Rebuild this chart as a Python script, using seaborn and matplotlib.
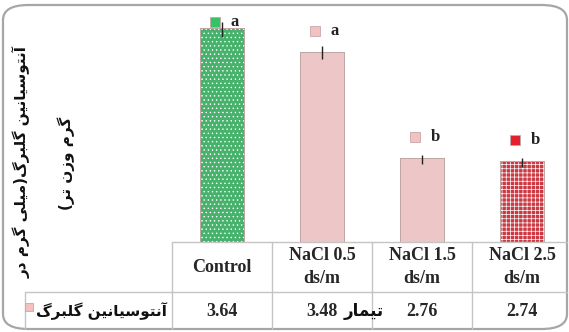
import numpy as np
import pandas as pd
import seaborn as sns
import matplotlib.pyplot as plt
import matplotlib.patheffects as pe
from matplotlib.patches import FancyBboxPatch
from matplotlib.lines import Line2D

# data
treatments = ['Control', 'NaCl 0.5\nds/m', 'NaCl 1.5\nds/m', 'NaCl 2.5\nds/m']
anthocyanin = [3.64, 3.48, 2.76, 2.74]
errors = [0.05, 0.045, 0.03, 0.03]
letters = ['a', 'a', 'b', 'b']
row_label = 'آنتوسیانین گلبرگ'
y_title = ['آنتوسیانین گلبرگ(میلی گرم در', 'گرم وزن تر)']
x_title = 'تیمار'

bar_colors = ['#34c466', '#f3c1c1', '#f3c1c1', '#e5202e']
bar_hatch = ['....', '', '', '++++']

# --- tiny arabic shaper (matplotlib does no shaping) ---
FORMS = {
    'آ': ('\uFE81', '\uFE82', None, None),
    'ا': ('\uFE8D', '\uFE8E', None, None),
    'ب': ('\uFE8F', '\uFE90', '\uFE91', '\uFE92'),
    'ت': ('\uFE95', '\uFE96', '\uFE97', '\uFE98'),
    'د': ('\uFEA9', '\uFEAA', None, None),
    'ر': ('\uFEAD', '\uFEAE', None, None),
    'ز': ('\uFEAF', '\uFEB0', None, None),
    'س': ('\uFEB1', '\uFEB2', '\uFEB3', '\uFEB4'),
    'ل': ('\uFEDD', '\uFEDE', '\uFEDF', '\uFEE0'),
    'م': ('\uFEE1', '\uFEE2', '\uFEE3', '\uFEE4'),
    'ن': ('\uFEE5', '\uFEE6', '\uFEE7', '\uFEE8'),
    'و': ('\uFEED', '\uFEEE', None, None),
    'ی': ('\uFBFC', '\uFBFD', '\uFBFE', '\uFBFF'),
    'گ': ('\uFB92', '\uFB93', '\uFB94', '\uFB95'),
}
MIRROR = {'(': ')', ')': '('}


def shape(s):
    out = []
    for i, c in enumerate(s):
        if c not in FORMS:
            out.append(MIRROR.get(c, c))
            continue
        prev = s[i - 1] if i > 0 else ''
        nxt = s[i + 1] if i + 1 < len(s) else ''
        pj = prev in FORMS and FORMS[prev][2] is not None
        nj = nxt in FORMS and FORMS[c][2] is not None
        iso, fin, ini, med = FORMS[c]
        if pj and nj:
            out.append(med)
        elif pj:
            out.append(fin)
        elif nj:
            out.append(ini)
        else:
            out.append(iso)
    return ''.join(out[::-1])


sns.set_style('white')
plt.rcParams['font.family'] = ['Liberation Serif', 'DejaVu Sans']
plt.rcParams['hatch.linewidth'] = 0.5

W, H = 569, 332
fig = plt.figure(figsize=(W / 100, H / 100), dpi=100)


def fx(x):
    return x / W


def fy(y):
    return 1 - y / H


# chart frame
frame = FancyBboxPatch((fx(3), fy(329)), fx(564), (329 - 5) / H,
                       boxstyle='round,pad=0,rounding_size=0.045',
                       transform=fig.transFigure, fill=False,
                       edgecolor='#a6a6a6', lw=1.6)
fig.add_artist(frame)

ax = fig.add_axes([fx(172), fy(242), (572 - 172) / W, (242 - 5.5) / H])
df = pd.DataFrame({'treatment': treatments, 'value': anthocyanin})
sns.barplot(data=df, x='treatment', y='value', hue='treatment',
            palette=bar_colors, width=0.43, legend=False, ax=ax)
for p, h in zip(ax.patches, bar_hatch):
    p.set_edgecolor('white')
    p.set_linewidth(0)
    p.set_hatch(h)
    p.set_path_effects([pe.Stroke(linewidth=1.4, foreground='#bfa3a3'), pe.Normal()])

xs = np.arange(len(treatments))
ax.errorbar(xs, anthocyanin, yerr=errors, fmt='none', ecolor='#222222',
            elinewidth=1, capsize=0, zorder=5)

for x, v, lt, c in zip(xs, anthocyanin, letters, bar_colors):
    ly = min(v + 0.15, 3.69)
    ax.plot(x - 0.07, ly, marker='s', ms=6.5, mfc=c, mec='#c8a8a8', mew=0.6,
            clip_on=False)
    ax.text(x + 0.13, ly, lt, ha='center', va='center', fontsize=12,
            fontweight='bold', color='#222222')

ax.set_ylim(2.2, 3.8)
ax.set_xlim(-0.5, 3.5)
ax.set_xlabel('')
ax.set_ylabel('')
ax.set_xticks([])
ax.set_yticks([])
for s in ax.spines.values():
    s.set_visible(False)

# data table under the bars
grid = '#c4c4c4'
lines = [((172, 567), (242, 242)), ((25, 567), (292, 292)),
         ((25, 25), (292, 329)), ((172, 172), (242, 329)),
         ((272, 272), (242, 329)), ((372, 372), (242, 329)),
         ((472, 472), (242, 329))]
for (x0, x1), (y0, y1) in lines:
    fig.add_artist(Line2D([fx(x0), fx(x1)], [fy(y0), fy(y1)],
                          transform=fig.transFigure, color=grid, lw=1))

for i, (t, v) in enumerate(zip(treatments, anthocyanin)):
    cx = 222 + 100 * i
    fig.text(fx(cx), fy(267), t, ha='center', va='center', fontsize=13,
             fontweight='bold', color='#262626', linespacing=1.45)
    fig.text(fx(cx), fy(311), f'{v:.2f}', ha='center', va='center',
             fontsize=13, fontweight='bold', color='#262626')

fig.text(fx(167), fy(311), shape(row_label), ha='right', va='center',
         fontsize=11, fontweight='bold', family='DejaVu Sans', color='#111111')
fig.add_artist(Line2D([fx(29)], [fy(307)], marker='s', ms=6, mfc='#f3c1c1',
                      mec='#c8a8a8', mew=0.6, transform=fig.transFigure))
fig.text(fx(364), fy(311), shape(x_title), ha='center', va='center',
         fontsize=12, fontweight='bold', family='DejaVu Sans', color='#111111')

fig.text(fx(22), fy(162), shape(y_title[0]), ha='center', va='center',
         rotation=90, fontsize=11, fontweight='bold', family='DejaVu Sans',
         color='#111111')
fig.text(fx(66), fy(163), shape(y_title[1]), ha='center', va='center',
         rotation=90, fontsize=11, fontweight='bold', family='DejaVu Sans',
         color='#111111')

fig.savefig('out.png', dpi=100)
